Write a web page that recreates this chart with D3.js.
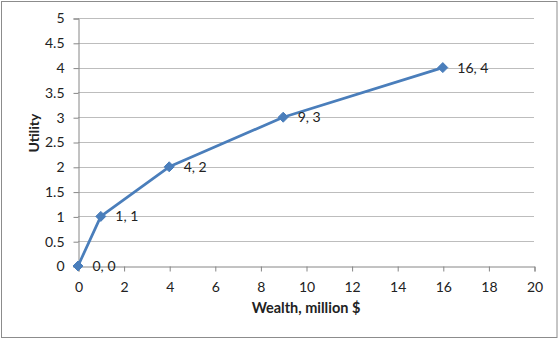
<!DOCTYPE html>
<html><head><meta charset="utf-8">
<script src="https://cdn.jsdelivr.net/npm/d3@7"></script>
<style>body{margin:0;background:#fff}svg{display:block}</style>
</head><body>
<script>
const wealth = [0, 1, 4, 9, 16];
const utility = [0, 1, 2, 3, 4];
const xTicks = [0, 2, 4, 6, 8, 10, 12, 14, 16, 18, 20];
const yTicks = [0, 0.5, 1, 1.5, 2, 2.5, 3, 3.5, 4, 4.5, 5];
const xTitle = "Wealth, million $";
const yTitle = "Utility";

const W = 560, H = 339;
const font = "Lato, 'Open Sans', sans-serif";
const svg = d3.select("body").append("svg").attr("width", W).attr("height", H);
svg.append("rect").attr("x", 1.5).attr("y", 1.5).attr("width", 555.5).attr("height", 336)
  .attr("fill", "#fff").attr("stroke", "#8c8c8c").attr("stroke-width", 1);

const x = d3.scaleLinear().domain([0, 20]).range([78, 534]);
const y = d3.scaleLinear().domain([0, 5]).range([266, 18]);

const g = svg.append("g");
g.selectAll("line.grid").data(yTicks.filter(d => d > 0)).join("line")
  .attr("x1", x(0)).attr("x2", x(20))
  .attr("y1", d => Math.round(y(d)) + 0.5).attr("y2", d => Math.round(y(d)) + 0.5)
  .attr("stroke", "#bdbdbd").attr("stroke-width", 1);

const yAxis = d3.axisLeft(y).tickValues(yTicks).tickSize(5).tickPadding(9).tickFormat(d3.format("~g"));
const ya = svg.append("g").attr("transform", `translate(${x(0) + 0.5},0.5)`).call(yAxis);
const xAxis = d3.axisBottom(x).tickValues(xTicks).tickSize(5).tickPadding(11).tickFormat(d3.format("d"));
const xa = svg.append("g").attr("transform", `translate(0.5,${y(0) + 0.5})`).call(xAxis);
[ya, xa].forEach(a => {
  a.select(".domain").attr("stroke", "#868686");
  a.selectAll(".tick line").attr("stroke", "#868686");
  a.selectAll("text").attr("font-family", font).attr("font-size", 14).attr("fill", "#222");
});

svg.append("text").attr("transform", `translate(39,133) rotate(-90)`)
  .attr("text-anchor", "middle").attr("font-family", font).attr("font-weight", "bold")
  .attr("font-size", 14).attr("fill", "#222").text(yTitle);
svg.append("text").attr("x", 306).attr("y", 313)
  .attr("text-anchor", "middle").attr("font-family", font).attr("font-weight", "bold")
  .attr("font-size", 14.5).attr("fill", "#222").text(xTitle);

const pts = wealth.map((w, i) => [w, utility[i]]);
svg.append("path").datum(pts)
  .attr("d", d3.line().x(d => x(d[0])).y(d => y(d[1])))
  .attr("fill", "none").attr("stroke", "#4a7ebb").attr("stroke-width", 2.75).attr("stroke-linejoin", "round");

svg.selectAll("path.m").data(pts).join("path")
  .attr("d", d3.symbol().type(d3.symbolDiamond2).size(64))
  .attr("transform", d => `translate(${x(d[0])},${y(d[1])})`)
  .attr("fill", "#4a7ebb").attr("stroke", "#4a7ebb").attr("stroke-width", 1);

svg.selectAll("text.lbl").data(pts).join("text")
  .attr("x", d => x(d[0]) + 14.5).attr("y", d => y(d[1]))
  .attr("dy", "0.35em").attr("font-family", font).attr("font-size", 14).attr("fill", "#222")
  .text(d => `${d[0]}, ${d[1]}`);
</script>
</body></html>
